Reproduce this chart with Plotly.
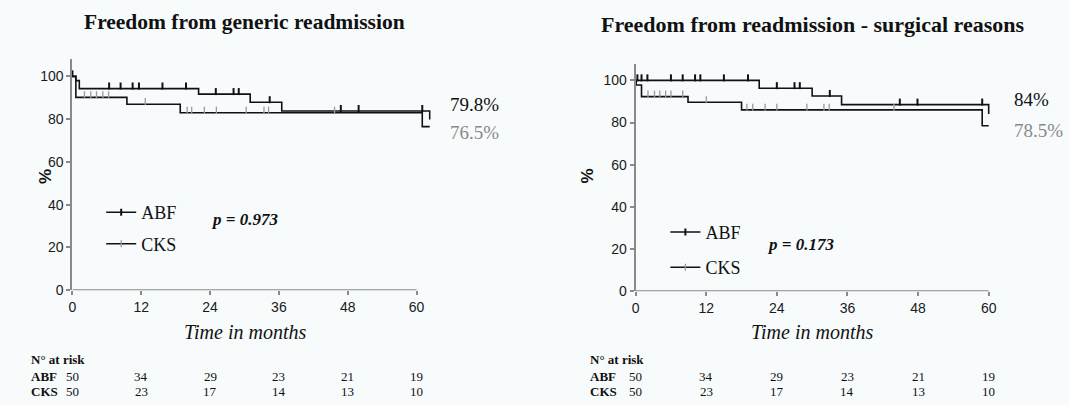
import plotly.graph_objects as go

# ---------------- data ----------------
months_ticks = [0, 12, 24, 36, 48, 60]
pct_ticks = [0, 20, 40, 60, 80, 100]

# Panel 1: generic readmission
gen_abf_t = [0, 0.6, 1.2, 22, 31, 36.5, 62.3]
gen_abf_s = [100, 98, 94.3, 91.7, 87.9, 83.8, 79.8]
gen_cks_t = [0, 0.6, 9.5, 18.8, 61.0, 62.3]
gen_cks_s = [100, 90.2, 87, 83, 76.5, 76.5]
gen_abf_cens = [0, 6.4, 8.4, 10.5, 11.6, 15.7, 19.8, 25, 28.1, 29, 34.4, 46.8, 49.9, 61.0]
gen_cks_cens = [2.1, 3.2, 4.2, 5.3, 6.3, 12.7, 20.0, 20.8, 23.0, 25.1, 30.3, 33.4, 34.2, 45.7]
gen_final = ["79.8%", "76.5%"]
gen_p = "p = 0.973"

# Panel 2: surgical reasons
sur_abf_t = [0, 21, 30, 35, 60]
sur_abf_s = [100, 96.3, 92.6, 88.5, 84]
sur_cks_t = [0, 0.1, 1.0, 8.9, 18.0, 58.9, 60]
sur_cks_s = [100, 97.8, 92.3, 89.6, 86.0, 78.5, 78.5]
sur_abf_cens = [0.3, 1.0, 2.0, 6.0, 8.0, 10.1, 11.0, 15.0, 19.1, 24, 27, 27.9, 33, 44.9, 47.9, 58.9]
sur_cks_cens = [2.1, 3.2, 4.1, 5.1, 6.0, 8.0, 12.0, 18.9, 19.9, 22.0, 24.0, 29.1, 32.0, 32.9, 43.9]
sur_final = ["84%", "78.5%"]
sur_p = "p = 0.173"

groups = ["ABF", "CKS"]
risk_abf = [50, 34, 29, 23, 21, 19]
risk_cks = [50, 23, 17, 14, 13, 10]

titles = ["Freedom from generic readmission", "Freedom from readmission - surgical reasons"]

# ---------------- styling ----------------
W, H = 1069, 405
SERIF = "Liberation Serif, Times New Roman, serif"
SANS = "Liberation Sans, Arial, sans-serif"
BLACK = "#111111"
GRAY = "#9a9a9a"
AXIS = "#8a8a8a"
BG = "#f7fbfc"


def px(x):
    return x / W


def py(y):
    return 1 - y / H


def step_at(ts, ss, t):
    v = ss[0]
    for ti, si in zip(ts, ss):
        if ti <= t:
            v = si
    return v


fig = go.Figure()

panels = [
    dict(xa="x", ya="y", abf=(gen_abf_t, gen_abf_s, gen_abf_cens), cks=(gen_cks_t, gen_cks_s, gen_cks_cens),
         legend="legend"),
    dict(xa="x2", ya="y2", abf=(sur_abf_t, sur_abf_s, sur_abf_cens), cks=(sur_cks_t, sur_cks_s, sur_cks_cens),
         legend="legend2"),
]

for p in panels:
    for name, (ts, ss, cens), lw, mw in [
        ("ABF", p["abf"], 1.6, 2.0),
        ("CKS", p["cks"], 1.6, 1.3),
    ]:
        fig.add_trace(go.Scatter(x=ts, y=ss, mode="lines", line=dict(color=BLACK, width=lw, shape="hv"),
                                 xaxis=p["xa"], yaxis=p["ya"], showlegend=False, hoverinfo="skip",
                                 cliponaxis=False))
        mcol = BLACK if name == "ABF" else GRAY
        fig.add_trace(go.Scatter(x=cens, y=[step_at(ts, ss, c) + 1.2 for c in cens], mode="markers",
                                 marker=dict(symbol="line-ns", size=5, line=dict(color=mcol, width=mw)),
                                 xaxis=p["xa"], yaxis=p["ya"], showlegend=False, hoverinfo="skip",
                                 cliponaxis=False))
        # legend entry
        fig.add_trace(go.Scatter(x=[None], y=[None], mode="lines+markers", name=name,
                                 line=dict(color=BLACK, width=1.5),
                                 marker=dict(symbol="line-ns", size=5, line=dict(color=mcol, width=mw)),
                                 xaxis=p["xa"], yaxis=p["ya"], legend=p["legend"], legendgroup=name + p["legend"],
                                 showlegend=True))

axis_common = dict(showgrid=False, zeroline=False, ticks="outside", ticklen=4, tickwidth=1.5,
                   tickcolor=AXIS, tickfont=dict(family=SANS, size=14, color="#1a1a1a"))

fig.update_layout(
    width=W, height=H, autosize=False,
    margin=dict(l=0, r=0, t=0, b=0),
    paper_bgcolor=BG, plot_bgcolor=BG,
    xaxis=dict(domain=[px(69), px(430.5)], range=[0, 62.5], tickvals=months_ticks, showline=False,
               anchor="y", **axis_common),
    yaxis=dict(domain=[py(296), py(60.5)], range=[0, 108], tickvals=pct_ticks, showline=True,
               linecolor=AXIS, linewidth=2, anchor="x", **axis_common),
    xaxis2=dict(domain=[px(637), px(996)], range=[0, 60.5], tickvals=months_ticks, showline=False,
                anchor="y2", **axis_common),
    yaxis2=dict(domain=[py(297), py(64.8)], range=[0, 108], tickvals=pct_ticks, showline=True,
                linecolor=AXIS, linewidth=2, anchor="x2", **axis_common),
    legend=dict(x=px(98), y=py(198), xanchor="left", yanchor="top", bgcolor="rgba(0,0,0,0)",
                font=dict(family=SERIF, size=18, color=BLACK), tracegroupgap=5, itemwidth=30),
    legend2=dict(x=px(667), y=py(218), xanchor="left", yanchor="top", bgcolor="rgba(0,0,0,0)",
                 font=dict(family=SERIF, size=18, color=BLACK), tracegroupgap=9, itemwidth=30),
    showlegend=True,
)

# x axis lines (only up to 60 months)
for xa, ya in [("x", "y"), ("x2", "y2")]:
    fig.add_shape(type="line", xref=xa, yref=ya, x0=months_ticks[0], x1=months_ticks[-1], y0=0, y1=0,
                  line=dict(color=AXIS, width=2))

ann = []
# titles
ann.append(dict(text="<b>%s</b>" % titles[0], x=px(243), y=py(22), font=dict(family=SERIF, size=21.5, color=BLACK)))
ann.append(dict(text="<b>%s</b>" % titles[1], x=px(815), y=py(25), font=dict(family=SERIF, size=22, color=BLACK)))
# axis titles
for cx, tx in [(42, 243), (588, 815)]:
    ann.append(dict(text="<b>%</b>", x=px(cx), y=py(180), textangle=-90, font=dict(family=SANS, size=17, color=BLACK)))
    ann.append(dict(text="<i>Time in months</i>", x=px(tx), y=py(339), font=dict(family=SERIF, size=20, color=BLACK)))
# final values
ann.append(dict(text=gen_final[0], x=px(448), y=py(107), xanchor="left", font=dict(family=SERIF, size=19, color=BLACK)))
ann.append(dict(text=gen_final[1], x=px(448), y=py(135), xanchor="left", font=dict(family=SERIF, size=19, color="#8a8a8a")))
ann.append(dict(text=sur_final[0], x=px(1017), y=py(101), xanchor="left", font=dict(family=SERIF, size=19, color=BLACK)))
ann.append(dict(text=sur_final[1], x=px(1017), y=py(133), xanchor="left", font=dict(family=SERIF, size=19, color="#8a8a8a")))
# p values
ann.append(dict(text="<b><i>%s</i></b>" % gen_p, x=px(207), y=py(224), xanchor="left", font=dict(family=SERIF, size=17, color=BLACK)))
ann.append(dict(text="<b><i>%s</i></b>" % sur_p, x=px(767), y=py(249), xanchor="left", font=dict(family=SERIF, size=17, color=BLACK)))

# numbers at risk
for xa, lx in [("x", 25), ("x2", 589)]:
    ann.append(dict(text="<b>N° at risk</b>", x=px(lx), y=py(367), xanchor="left", font=dict(family=SERIF, size=13, color=BLACK)))
    for g, row, yy in [(groups[0], risk_abf, 384), (groups[1], risk_cks, 399)]:
        ann.append(dict(text="<b>%s</b>" % g, x=px(lx), y=py(yy), xanchor="left", font=dict(family=SERIF, size=13, color=BLACK)))
        for m, v in zip(months_ticks, row):
            ann.append(dict(text=str(v), xref=xa, x=m, y=py(yy), yref="paper", xanchor="center",
                            font=dict(family=SERIF, size=13, color=BLACK)))

for a in ann:
    a.setdefault("xref", "paper")
    a.setdefault("yref", "paper")
    a.setdefault("showarrow", False)
    a.setdefault("xanchor", "center")
    a.setdefault("yanchor", "middle")
fig.update_layout(annotations=ann)

fig.write_html("out.html", config={"displayModeBar": False},
               post_script="document.body.style.margin='0px';document.body.style.overflow='hidden';")
